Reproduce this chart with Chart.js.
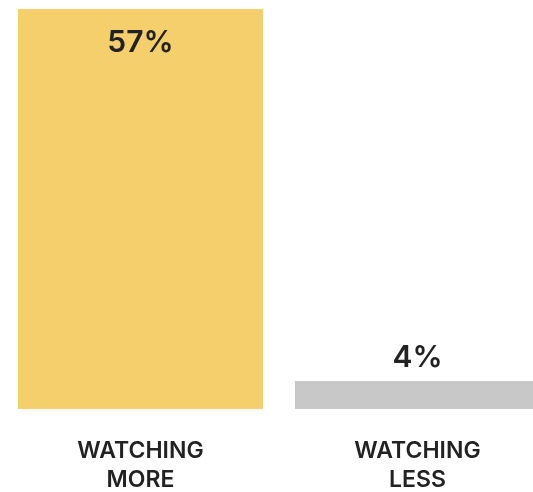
<!DOCTYPE html>
<html>
<head>
<meta charset="utf-8">
<script src="https://cdn.jsdelivr.net/npm/chart.js@4"></script>
<style>
  html, body { margin: 0; padding: 0; background: #fff; overflow: hidden; }
  #wrap { width: 556px; height: 522px; }
</style>
</head>
<body>
<div id="wrap"><canvas id="chart" width="556" height="522"></canvas></div>
<script>
const categories = [['WATCHING', 'MORE'], ['WATCHING', 'LESS']];
const shares = [57, 4];
const barColors = ['#F5CF6B', '#C8C8C8'];

// percentage labels: inside the top of tall bars, above short ones
const valueLabels = {
    id: 'valueLabels',
    afterDatasetsDraw(chart) {
        const ctx = chart.ctx;
        const meta = chart.getDatasetMeta(0);
        ctx.save();
        ctx.font = '600 30px Inter';
        ctx.fillStyle = '#222222';
        ctx.textAlign = 'center';
        ctx.textBaseline = 'middle';
        meta.data.forEach((bar, i) => {
            const h = bar.base - bar.y;
            const y = h > 70 ? bar.y + 34 : bar.y - 23;
            ctx.fillText(shares[i] + '%', bar.x, y);
        });
        ctx.restore();
    }
};

new Chart(document.getElementById('chart').getContext('2d'), {
    type: 'bar',
    data: {
        labels: categories,
        datasets: [{
            data: shares,
            backgroundColor: barColors,
            borderWidth: 0,
            categoryPercentage: 1,
            barPercentage: 0.885
        }]
    },
    options: {
        responsive: false,
        animation: false,
        devicePixelRatio: 1,
        layout: { padding: { top: 9, left: 2, right: 0, bottom: 0 } },
        plugins: { legend: { display: false }, tooltip: { enabled: false } },
        scales: {
            x: {
                grid: { display: false, drawTicks: false },
                border: { display: false },
                ticks: {
                    color: '#222222',
                    padding: 27,
                    font: { family: 'Inter', size: 23, weight: '600', lineHeight: 1.283 }
                }
            },
            y: { display: false, min: 0, max: 57 }
        }
    },
    plugins: [valueLabels]
});
</script>
</body>
</html>
